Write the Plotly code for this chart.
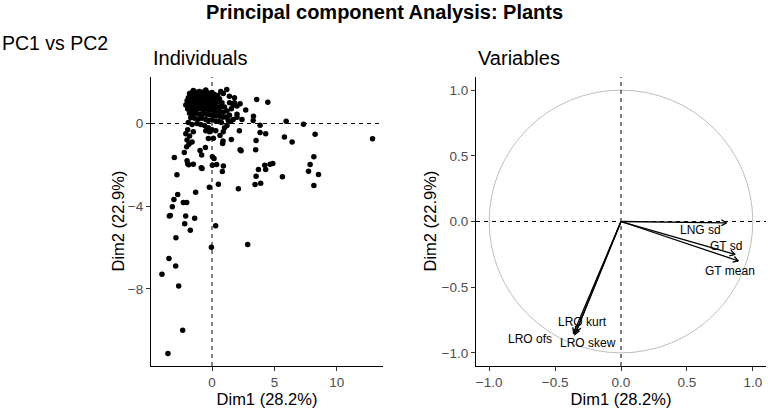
import math

import plotly.graph_objects as go

# individuals: coordinates on Dim1 / Dim2
ind_dim1 = [
    # dense cluster near the origin
    -1.8, -1.6, -1.4, -1.2, -1.0, -0.8, -0.6, -0.4, -0.2, 0.0, 0.2, 0.45,
    -1.9, -1.7, -1.5, -1.3, -1.1, -0.9, -0.7, -0.5, -0.3, -0.1, 0.1, 0.3, 0.6,
    -2.0, -1.75, -1.55, -1.35, -1.15, -0.95, -0.75, -0.55, -0.35, -0.15, 0.05, 0.25, 0.5, 0.8,
    -2.1, -1.85, -1.6, -1.4, -1.2, -1.0, -0.8, -0.6, -0.4, -0.2, 0.0, 0.2, 0.45, 0.7, 1.0,
    -1.95, -1.7, -1.45, -1.25, -1.05, -0.85, -0.65, -0.45, -0.25, -0.05, 0.15, 0.4, 0.65, 0.9, 1.2,
    -1.8, -1.55, -1.3, -1.0, -0.7, -0.45, -0.2, 0.1, 0.35, 0.6, 0.85, 1.1, 1.4,
    -1.7, -1.4, -1.1, -0.8, -0.5, -0.3, 0.0, 0.3, 0.55, 0.75, 1.3, 1.7, 2.0,
    -1.9, -1.6, -1.2, -0.9, -0.6, -0.3, 0.0, -0.5, -0.2, 0.3, 1.0, 0.9,
    -1.95, -2.1, -1.8, -2.0, -1.85, -1.6, -1.5, -2.03,
    1.18, 1.39, 0.9, -0.5, -1.5, 0.7,
    1.8, 2.0, 2.25, 1.7, 1.55, 2.0, 2.4, 1.5, 1.2, 2.7, 1.4, 1.8,
    # scattered points
    12.86, 3.58, 4.47, 3.32, 3.3, 5.94, 7.33, 8.26, 5.80, 6.42,
    3.85, 3.85, 4.30, 3.53, 3.50, 2.19, 2.25, 2.33, 1.55, 0.88,
    0.85, 0.64, 0.11, -0.29, -0.53, -0.96, -0.83, -2.22, -3.02, -2.81,
    -2.0, -1.87, -1.95, -1.50, -0.86, -0.8, 0.03, 0.37, 0.91, 0.83,
    0.51, -0.21, -1.31, 0.03, 0.16, 2.11, 3.45, 3.90, 3.53, 3.72,
    4.30, 4.22, 4.65, 4.87, 5.64, 7.73, 7.86, 8.16, 8.53, 8.16,
    -2.75, -3.05, -3.18, -3.42, -3.34, -2.30, -2.03, -2.11, -2.19, -1.74,
    -1.39, 0.29, -2.89, 2.86, -0.05, -3.45, -2.91, -4.01, -2.67, -2.35,
    -3.53,
]
ind_dim2 = [
    1.45, 1.5, 1.55, 1.5, 1.55, 1.5, 1.55, 1.5, 1.45, 1.5, 1.4, 1.35,
    1.25, 1.3, 1.3, 1.35, 1.3, 1.35, 1.3, 1.35, 1.3, 1.3, 1.25, 1.2, 1.2,
    1.1, 1.1, 1.12, 1.15, 1.1, 1.15, 1.1, 1.12, 1.1, 1.1, 1.05, 1.0, 1.05, 1.0,
    0.9, 0.92, 0.9, 0.95, 0.9, 0.92, 0.88, 0.9, 0.92, 0.88, 0.85, 0.85, 0.8, 0.82, 0.8,
    0.7, 0.72, 0.7, 0.68, 0.72, 0.7, 0.68, 0.7, 0.66, 0.65, 0.62, 0.6, 0.58, 0.55, 0.6,
    0.5, 0.48, 0.5, 0.45, 0.48, 0.45, 0.42, 0.4, 0.38, 0.35, 0.3, 0.32, 0.4,
    0.28, 0.25, 0.22, 0.25, 0.2, 0.15, 0.18, 0.12, 0.1, 0.05, 0.15, 0.2, 0.3,
    0.05, -0.05, 0.0, -0.05, -0.1, -0.2, -0.3, -0.35, -0.4, -0.35, -0.2, -0.4,
    -0.3, -0.5, -0.6, -0.8, -1.0, -0.9, -0.4, -1.13,
    1.65, 1.32, 1.45, 1.62, 1.6, 1.55,
    1.0, 0.85, 0.95, 0.88, 0.72, 0.45, 0.2, 0.1, -0.1, 0.65, 1.0, 1.25,
    -0.74, 1.16, 1.03, 0.35, 0.15, 0.11, -0.03, -0.52, -0.65, -0.90,
    -0.08, -0.44, -0.50, -0.82, -1.27, -0.35, -1.27, -1.32, -0.77, -0.85,
    -0.97, -0.58, -0.71, -0.73, -1.16, -1.3, -1.52, -1.40, -1.65, -2.48,
    -1.8, -2.0, -1.95, -1.97, -2.14, -2.18, -2.02, -1.98, -2.05, -2.32,
    -2.94, -3.08, -3.32, -1.61, -1.69, -3.15, -2.95, -2.89, -2.55, -2.23,
    -2.23, -2.02, -1.97, -1.94, -2.58, -2.31, -1.98, -1.61, -2.47, -3.0,
    -3.44, -3.68, -4.03, -4.47, -4.45, -3.82, -3.82, -4.47, -4.85, -5.16,
    -4.58, -4.95, -5.53, -5.85, -5.98, -6.53, -6.89, -7.29, -7.86, -10.0,
    -11.13,
]

# variables: loadings on Dim1 / Dim2
var_names = ["LNG sd", "GT sd", "GT mean", "LRO kurt", "LRO skew", "LRO ofs"]
var_dim1 = [0.80, 0.865, 0.89, -0.34, -0.35, -0.36]
var_dim2 = [-0.01, -0.25, -0.30, -0.84, -0.86, -0.85]

# where the (repelled) labels sit
label_xy = {
    "LNG sd": (0.60, -0.066),
    "GT sd": (0.80, -0.19),
    "GT mean": (0.83, -0.375),
    "LRO kurt": (-0.29, -0.765),
    "LRO skew": (-0.25, -0.925),
    "LRO ofs": (-0.69, -0.895),
}

FONT = "Liberation Sans, Arial, Helvetica, sans-serif"
TICK_GREY = "#4d4d4d"

fig = go.Figure()

fig.add_trace(go.Scatter(
    x=ind_dim1, y=ind_dim2, mode="markers",
    marker=dict(color="black", size=5.5, line=dict(width=0)),
    xaxis="x", yaxis="y", hoverinfo="x+y", showlegend=False,
))

# arrow shafts and open heads
shaft_x, shaft_y, head_x, head_y = [], [], [], []
head_len = 0.045
for x, y in zip(var_dim1, var_dim2):
    shaft_x += [0, x, None]
    shaft_y += [0, y, None]
    ang = math.atan2(y, x)
    for side in (-1, 1):
        a = ang + math.pi + side * math.pi / 6
        if side == -1:
            head_x += [x + head_len * math.cos(a), x]
            head_y += [y + head_len * math.sin(a), y]
        else:
            head_x += [x + head_len * math.cos(a), None]
            head_y += [y + head_len * math.sin(a), None]

fig.add_trace(go.Scatter(
    x=shaft_x, y=shaft_y, mode="lines", line=dict(color="black", width=1.3),
    xaxis="x2", yaxis="y2", hoverinfo="skip", showlegend=False,
))
fig.add_trace(go.Scatter(
    x=head_x, y=head_y, mode="lines", line=dict(color="black", width=1.3),
    xaxis="x2", yaxis="y2", hoverinfo="skip", showlegend=False,
))

shapes = [
    dict(type="line", xref="x", yref="y domain", x0=0, x1=0, y0=0, y1=1,
         line=dict(color="black", width=1, dash="4px,4px")),
    dict(type="line", xref="x domain", yref="y", x0=0, x1=1, y0=0, y1=0,
         line=dict(color="black", width=1, dash="4px,4px")),
    dict(type="circle", xref="x2", yref="y2", x0=-1, y0=-1, x1=1, y1=1,
         line=dict(color="#bebebe", width=1), layer="below"),
    dict(type="line", xref="x2", yref="y2 domain", x0=0, x1=0, y0=0, y1=1,
         line=dict(color="black", width=1, dash="4px,4px")),
    dict(type="line", xref="x2 domain", yref="y2", x0=0, x1=1, y0=0, y1=0,
         line=dict(color="black", width=1, dash="4px,4px")),
]

annotations = [
    dict(text="<b>Principal component Analysis: Plants</b>", x=0.5, y=0.971,
         xref="paper", yref="paper", xanchor="center", yanchor="middle",
         showarrow=False, font=dict(size=20, color="black")),
    dict(text="PC1 vs PC2", x=0.0, y=0.897, xref="paper", yref="paper",
         xanchor="left", yanchor="middle", showarrow=False,
         font=dict(size=19.5, color="black")),
    dict(text="Individuals", x=0.1966, y=0.861, xref="paper", yref="paper",
         xanchor="left", yanchor="middle", showarrow=False,
         font=dict(size=20, color="black")),
    dict(text="Variables", x=0.6198, y=0.861, xref="paper", yref="paper",
         xanchor="left", yanchor="middle", showarrow=False,
         font=dict(size=20, color="black")),
    # y axis titles, placed by hand next to the tick labels
    dict(text="Dim2 (22.9%)", x=118 / 768, y=0.4675, xref="paper", yref="paper",
         xanchor="center", yanchor="middle", textangle=-90, showarrow=False,
         font=dict(size=16.5, color="black")),
    dict(text="Dim2 (22.9%)", x=430 / 768, y=0.4675, xref="paper", yref="paper",
         xanchor="center", yanchor="middle", textangle=-90, showarrow=False,
         font=dict(size=16.5, color="black")),
]

for name, x, y in zip(var_names, var_dim1, var_dim2):
    lx, ly = label_xy[name]
    if name == "LRO ofs":
        # label pushed away, joined back to its point by a thin segment
        annotations.append(dict(
            text=name, x=x, y=y, ax=lx, ay=ly, xref="x2", yref="y2",
            axref="x2", ayref="y2", showarrow=True, arrowhead=0,
            arrowwidth=0.6, arrowcolor="#333333", standoff=0, startstandoff=26,
            font=dict(size=12, color="black")))
    else:
        annotations.append(dict(
            text=name, x=lx, y=ly, xref="x2", yref="y2", showarrow=False,
            font=dict(size=12, color="black")))

axis_common = dict(
    showgrid=False, zeroline=False, showline=True, linecolor="black",
    linewidth=1.2, ticks="outside", ticklen=4, tickwidth=1, tickcolor="#333333",
    tickfont=dict(size=13.5, color=TICK_GREY),
)

fig.update_layout(
    width=768, height=416,
    margin=dict(l=0, r=0, t=0, b=0),
    paper_bgcolor="white", plot_bgcolor="white",
    font=dict(family=FONT, color="black"),
    showlegend=False,
    shapes=shapes,
    annotations=annotations,
    xaxis=dict(domain=[0.1966, 0.4987], range=[-4.89, 13.7], tickvals=[0, 5, 10],
               anchor="y", title=dict(text="Dim1 (28.2%)", font=dict(size=16.5), standoff=2),
               **axis_common),
    yaxis=dict(domain=[0.1202, 0.8149], range=[-11.73, 2.25], tickvals=[0, -4, -8],
               anchor="x", **axis_common),
    xaxis2=dict(domain=[0.6198, 0.9974], range=[-1.1, 1.1],
                tickvals=[-1, -0.5, 0, 0.5, 1], tickformat=".1f", anchor="y2",
                title=dict(text="Dim1 (28.2%)", font=dict(size=16.5), standoff=2),
                **axis_common),
    yaxis2=dict(domain=[0.1202, 0.8149], range=[-1.1, 1.1],
                tickvals=[-1, -0.5, 0, 0.5, 1], tickformat=".1f", anchor="x2",
                **axis_common),
)

# drop the page's default body margin so the figure sits at the window corner
fig.write_html("out.html", config={"displayModeBar": False},
               post_script="document.body.style.margin='0';")
